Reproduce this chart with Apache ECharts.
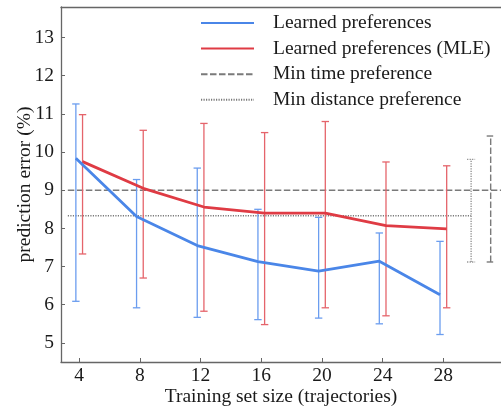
<!DOCTYPE html>
<html><head><meta charset="utf-8">
<script src="https://cdn.jsdelivr.net/npm/echarts@6/dist/echarts.min.js"></script>
<style>html,body{margin:0;padding:0;background:#fff}#c{width:501px;height:412px}</style>
</head><body><div id="c"></div>
<script>
// ---- data ----
const sizes = [4, 8, 12, 16, 20, 24, 28];
const xTicks = [4, 8, 12, 16, 20, 24, 28];
const yTicks = [5, 6, 7, 8, 9, 10, 11, 12, 13];
const learnedMean = [9.84, 8.31, 7.55, 7.13, 6.88, 7.14, 6.26];
const learnedLow  = [6.09, 5.92, 5.67, 5.61, 5.65, 5.50, 5.22];
const learnedHigh = [11.26, 9.28, 9.58, 8.50, 8.29, 7.88, 7.66];
const mleMean = [9.75, 9.05, 8.56, 8.40, 8.40, 8.07, 7.99];
const mleLow  = [7.33, 6.70, 5.83, 5.48, 5.92, 5.71, 5.92];
const mleHigh = [10.98, 10.57, 10.75, 10.51, 10.80, 9.74, 9.64];
// [mean, low, high]
const minTimeStats = [9.0, 7.12, 10.42];
const minDistStats = [8.33, 7.12, 9.81];
// x extents of reference lines and x of their error bars (data units)
const minTimeSpan = [3.25, 31.8];
const minDistSpan = [3.25, 29.83];
const minTimeBarX = [31.12];
const minDistBarX = [29.83];
const seriesNames = ['Learned preferences', 'Learned preferences (MLE)', 'Min time preference', 'Min distance preference'];

// ---- styles ----
const FONT = 'Liberation Serif';
const OFF = 0.22;
const BLUE = '#4a86e8', BLUE_BAR = '#6b9def';
const RED = '#df3b44', RED_BAR = '#e5646b';
const GRAY = '#7a7a7a';

function errRender(color, dash, width, cap) {
  return function (params, api) {
    const x = api.value(0), lo = api.value(1), hi = api.value(2);
    const a = api.coord([x, lo]), b = api.coord([x, hi]);
    const style = { stroke: color, lineWidth: width, lineDash: dash, fill: null };
    return { type: 'group', children: [
      { type: 'line', shape: { x1: a[0], y1: a[1], x2: b[0], y2: b[1] }, style: style },
      { type: 'line', shape: { x1: a[0] - cap, y1: a[1], x2: a[0] + cap, y2: a[1] }, style: style },
      { type: 'line', shape: { x1: b[0] - cap, y1: b[1], x2: b[0] + cap, y2: b[1] }, style: style }
    ]};
  };
}

const chart = echarts.init(document.getElementById('c'), null, { renderer: 'canvas' });
const axisText = { fontSize: 19.5, fontFamily: FONT, color: '#1a1a1a' };
chart.setOption({
  animation: false,
  backgroundColor: '#fff',
  grid: { left: 61, top: 7, right: 0, bottom: 50, containLabel: false, outerBoundsMode: 'none' },
  legend: {
    orient: 'vertical', left: 200, top: 13, padding: 0,
    itemWidth: 53, itemHeight: 14, itemGap: 5.6,
    itemStyle: { opacity: 0 },
    textStyle: { fontSize: 19.5, fontFamily: FONT, color: '#1a1a1a', lineHeight: 20, padding: [0, 0, 0, 14] },
    data: seriesNames
  },
  xAxis: [{
    type: 'value', min: 2.8, max: 31.8,
    name: 'Training set size (trajectories)', nameLocation: 'middle', nameGap: 25, nameMoveOverlap: false,
    nameTextStyle: axisText,
    axisLine: { show: true, lineStyle: { color: '#666', width: 1.3 } },
    axisTick: { show: true, inside: true, length: 4, customValues: xTicks, lineStyle: { color: '#666' } },
    axisLabel: { customValues: xTicks, margin: 4, fontSize: 19.5, fontFamily: FONT, color: '#1a1a1a' },
    splitLine: { show: false }
  }, {
    type: 'value', min: 2.8, max: 31.8, position: 'top',
    axisLine: { show: true, lineStyle: { color: '#666', width: 1.3 } },
    axisTick: { show: false }, axisLabel: { show: false }, splitLine: { show: false }
  }],
  yAxis: {
    type: 'value', min: 4.5, max: 13.8,
    name: 'prediction error (%)', nameLocation: 'middle', nameGap: 26, nameMoveOverlap: false,
    nameTextStyle: axisText,
    axisLine: { show: true, lineStyle: { color: '#666', width: 1.3 } },
    axisTick: { show: true, inside: true, length: 4, customValues: yTicks, lineStyle: { color: '#666' } },
    axisLabel: { customValues: yTicks, margin: 7, fontSize: 19.5, fontFamily: FONT, color: '#1a1a1a' },
    splitLine: { show: false }
  },
  series: [
    { type: 'line', name: seriesNames[2], symbol: 'none', z: 1,
      lineStyle: { color: GRAY, width: 1.6, type: [6.5, 2.5] }, itemStyle: { color: GRAY },
      data: minTimeSpan.map(x => [x, minTimeStats[0]]) },
    { type: 'line', name: seriesNames[3], symbol: 'none', z: 1,
      lineStyle: { color: GRAY, width: 1.4, type: [1.2, 1.3] }, itemStyle: { color: GRAY },
      data: minDistSpan.map(x => [x, minDistStats[0]]) },
    { type: 'custom', name: 'mtbar', z: 2, renderItem: errRender(GRAY, [6.5, 2.5], 1.4, 4),
      encode: { x: 0, y: [1, 2] }, data: minTimeBarX.map(x => [x, minTimeStats[1], minTimeStats[2]]) },
    { type: 'custom', name: 'mdbar', z: 2, renderItem: errRender('#8a8a8a', [1.2, 1.3], 1.3, 4),
      encode: { x: 0, y: [1, 2] }, data: minDistBarX.map(x => [x, minDistStats[1], minDistStats[2]]) },
    { type: 'custom', name: 'lbar', z: 3, renderItem: errRender(BLUE_BAR, null, 1.3, 3.7),
      encode: { x: 0, y: [1, 2] }, data: sizes.map((s, i) => [s - OFF, learnedLow[i], learnedHigh[i]]) },
    { type: 'custom', name: 'mbar', z: 3, renderItem: errRender(RED_BAR, null, 1.3, 3.7),
      encode: { x: 0, y: [1, 2] }, data: sizes.map((s, i) => [s + OFF, mleLow[i], mleHigh[i]]) },
    { type: 'line', name: seriesNames[1], symbol: 'none', z: 4,
      lineStyle: { color: RED, width: 2.8 }, itemStyle: { color: RED },
      data: sizes.map((s, i) => [s + OFF, mleMean[i]]) },
    { type: 'line', name: seriesNames[0], symbol: 'none', z: 5,
      lineStyle: { color: BLUE, width: 2.8 }, itemStyle: { color: BLUE },
      data: sizes.map((s, i) => [s - OFF, learnedMean[i]]) }
  ]
});
</script>
</body></html>
